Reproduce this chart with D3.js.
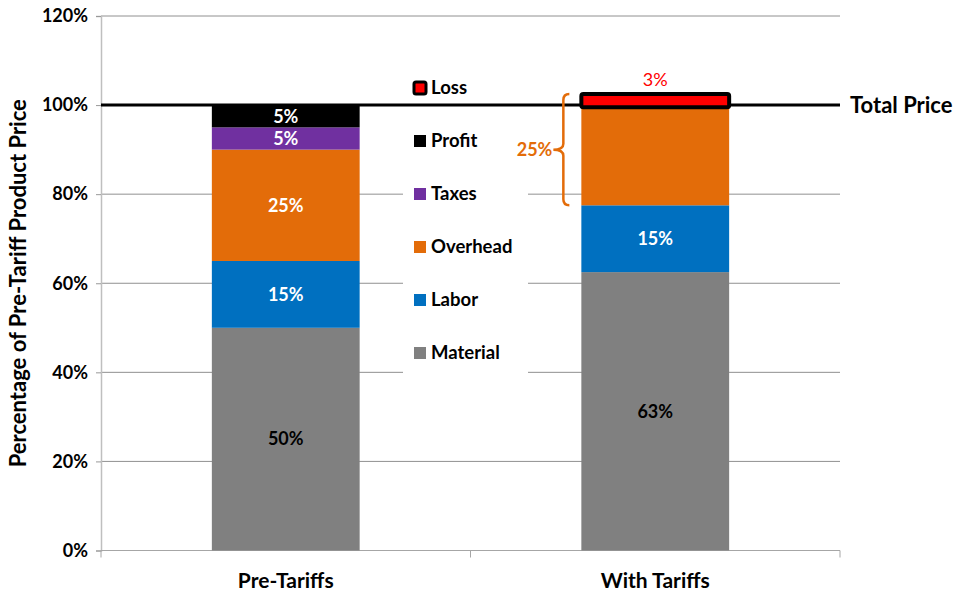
<!DOCTYPE html>
<html>
<head>
<meta charset="utf-8">
<script src="https://cdnjs.cloudflare.com/ajax/libs/d3/7.8.5/d3.min.js"></script>
<style>
  body { margin: 0; background: #fff; }
  svg { font-family: Lato, "Open Sans", sans-serif; }
</style>
</head>
<body>
<div id="chart"></div>
<script>
// chart values
const categories = ["Pre-Tariffs", "With Tariffs"];
const components = ["Material", "Labor", "Overhead", "Taxes", "Profit", "Loss"];
const preTariffValues = [0.50, 0.15, 0.25, 0.05, 0.05, 0];
const withTariffValues = [0.625, 0.15, 0.22, 0, 0, 0.03];
const preTariffLabels = ["50%", "15%", "25%", "5%", "5%", ""];
const withTariffLabels = ["63%", "15%", "", "", "", "3%"];
const yTicks = [0, 0.2, 0.4, 0.6, 0.8, 1.0, 1.2];
const totalPrice = 1.0;
const overheadBracket = { from: 0.775, to: 1.025, label: "25%" };

const colors = {
    Material: "#808080",
    Labor: "#0070C0",
    Overhead: "#E36C09",
    Taxes: "#7030A0",
    Profit: "#000000",
    Loss: "#FF0000"
};

const width = 955, height = 590;
const margin = { top: 16, right: 115, bottom: 39.5, left: 101 };

const svg = d3.select("#chart").append("svg")
    .attr("width", width)
    .attr("height", height);

// build rows for the stack
const rows = categories.map((c, i) => {
    const vals = i === 0 ? preTariffValues : withTariffValues;
    const labs = i === 0 ? preTariffLabels : withTariffLabels;
    const row = { category: c, labels: labs };
    components.forEach((k, j) => row[k] = vals[j]);
    return row;
});

const x = d3.scaleBand()
    .domain(categories)
    .range([margin.left, width - margin.right])
    .paddingInner(0.6)
    .paddingOuter(0.3);

const y = d3.scaleLinear()
    .domain([0, 1.2])
    .range([height - margin.bottom, margin.top]);

// gridlines
svg.append("g")
    .selectAll("line")
    .data(yTicks.filter(d => d > 0))
    .join("line")
    .attr("x1", margin.left)
    .attr("x2", width - margin.right)
    .attr("y1", d => y(d))
    .attr("y2", d => y(d))
    .attr("stroke", "#909090")
    .attr("stroke-width", 1);

// y axis
const yAxis = svg.append("g")
    .attr("transform", `translate(${margin.left},0)`)
    .call(d3.axisLeft(y).tickValues(yTicks).tickFormat(d3.format(".0%")).tickSize(5).tickPadding(8));
yAxis.select(".domain").attr("stroke", "#bfbfbf").attr("stroke-width", 1.5);
yAxis.selectAll(".tick line").attr("stroke", "#999");
yAxis.selectAll("text")
    .attr("font-size", 18)
    .attr("font-weight", "bold")
    .attr("fill", "#000")
    .attr("font-family", "Lato, sans-serif");

// x axis
const xAxisG = svg.append("g")
    .attr("transform", `translate(0,${y(0)})`);
xAxisG.append("line")
    .attr("x1", margin.left).attr("x2", width - margin.right)
    .attr("stroke", "#a6a6a6").attr("stroke-width", 1.2);
const bounds = [margin.left, (x(categories[0]) + x.bandwidth() + x(categories[1])) / 2, width - margin.right];
xAxisG.selectAll(".xtick")
    .data(bounds)
    .join("line")
    .attr("x1", d => d).attr("x2", d => d)
    .attr("y1", 0).attr("y2", 7)
    .attr("stroke", "#a6a6a6");
xAxisG.selectAll(".xlabel")
    .data(categories)
    .join("text")
    .attr("x", d => x(d) + x.bandwidth() / 2)
    .attr("y", 37)
    .attr("text-anchor", "middle")
    .attr("font-size", 21)
    .attr("font-weight", "bold")
    .text(d => d);

// y axis title
svg.append("text")
    .attr("transform", `translate(26,${(y(0) + y(1.2)) / 2}) rotate(-90)`)
    .attr("text-anchor", "middle")
    .attr("font-size", 22)
    .attr("font-weight", "bold")
    .text("Percentage of Pre-Tariff Product Price");

// legend background and items
const legendItems = components.slice().reverse();
const legend = svg.append("g");
legend.append("rect")
    .attr("x", 403).attr("y", 70)
    .attr("width", 125).attr("height", 310)
    .attr("fill", "#fff");

// total price line
svg.append("line")
    .attr("x1", margin.left).attr("x2", width - margin.right)
    .attr("y1", y(totalPrice)).attr("y2", y(totalPrice))
    .attr("stroke", "#000").attr("stroke-width", 3);
svg.append("text")
    .attr("x", width - margin.right + 10)
    .attr("y", y(totalPrice))
    .attr("dy", "0.35em")
    .attr("font-size", 22)
    .attr("font-weight", "bold")
    .text("Total Price");

legendItems.forEach((k, i) => {
    const ly = 88 + i * 53;
    if (k === "Loss") {
        legend.append("rect")
            .attr("x", 414).attr("y", ly - 6)
            .attr("width", 12).attr("height", 12)
            .attr("rx", 2)
            .attr("fill", colors.Loss)
            .attr("stroke", "#000").attr("stroke-width", 3);
    } else {
        legend.append("rect")
            .attr("x", 414).attr("y", ly - 6)
            .attr("width", 12).attr("height", 12)
            .attr("fill", colors[k]);
    }
    legend.append("text")
        .attr("x", 431).attr("y", ly)
        .attr("dy", "0.35em")
        .attr("font-size", 18.5)
        .attr("font-weight", "bold")
        .text(k);
});

// stacked bars
const stack = d3.stack().keys(components)(rows);
const barGroups = svg.append("g")
    .selectAll("g")
    .data(stack)
    .join("g")
    .attr("fill", d => colors[d.key]);

barGroups.selectAll("rect")
    .data(d => d.map(v => ({ key: d.key, v })))
    .join("rect")
    .filter(d => d.v[1] - d.v[0] > 0)
    .attr("x", d => x(d.v.data.category))
    .attr("width", x.bandwidth())
    .attr("y", d => y(d.v[1]))
    .attr("height", d => y(d.v[0]) - y(d.v[1]))
    .attr("stroke", d => d.key === "Loss" ? "#000" : null)
    .attr("stroke-width", d => d.key === "Loss" ? 4 : null)
    .attr("rx", d => d.key === "Loss" ? 2 : 0);

// segment labels
stack.forEach((layer, j) => {
    layer.forEach(v => {
        const lab = v.data.labels[j];
        if (!lab) return;
        const cx = x(v.data.category) + x.bandwidth() / 2;
        if (layer.key === "Loss") {
            svg.append("text")
                .attr("x", cx)
                .attr("y", y(v[1]) - 8)
                .attr("text-anchor", "middle")
                .attr("font-size", 18)
                .attr("fill", "#FF0000")
                .text(lab);
        } else {
            svg.append("text")
                .attr("x", cx)
                .attr("y", (y(v[0]) + y(v[1])) / 2)
                .attr("dy", "0.35em")
                .attr("text-anchor", "middle")
                .attr("font-size", 18)
                .attr("font-weight", "bold")
                .attr("fill", layer.key === "Material" ? "#000" : "#fff")
                .text(lab);
        }
    });
});

// overhead bracket
const bx = x(categories[1]) - 12;
const yTop = y(overheadBracket.to), yBot = y(overheadBracket.from);
const yMid = (yTop + yBot) / 2;
const bracketPath = d3.path();
bracketPath.moveTo(bx, yTop);
bracketPath.quadraticCurveTo(bx - 6, yTop, bx - 6, yTop + 6);
bracketPath.lineTo(bx - 6, yMid - 6);
bracketPath.quadraticCurveTo(bx - 6, yMid, bx - 16, yMid);
bracketPath.quadraticCurveTo(bx - 6, yMid, bx - 6, yMid + 6);
bracketPath.lineTo(bx - 6, yBot - 6);
bracketPath.quadraticCurveTo(bx - 6, yBot, bx, yBot);
svg.append("path")
    .attr("d", bracketPath.toString())
    .attr("fill", "none")
    .attr("stroke", colors.Overhead)
    .attr("stroke-width", 2.5);
svg.append("text")
    .attr("x", bx - 17)
    .attr("y", yMid)
    .attr("dy", "0.35em")
    .attr("text-anchor", "end")
    .attr("font-size", 18)
    .attr("font-weight", "bold")
    .attr("fill", colors.Overhead)
    .text(overheadBracket.label);
</script>
</body>
</html>
